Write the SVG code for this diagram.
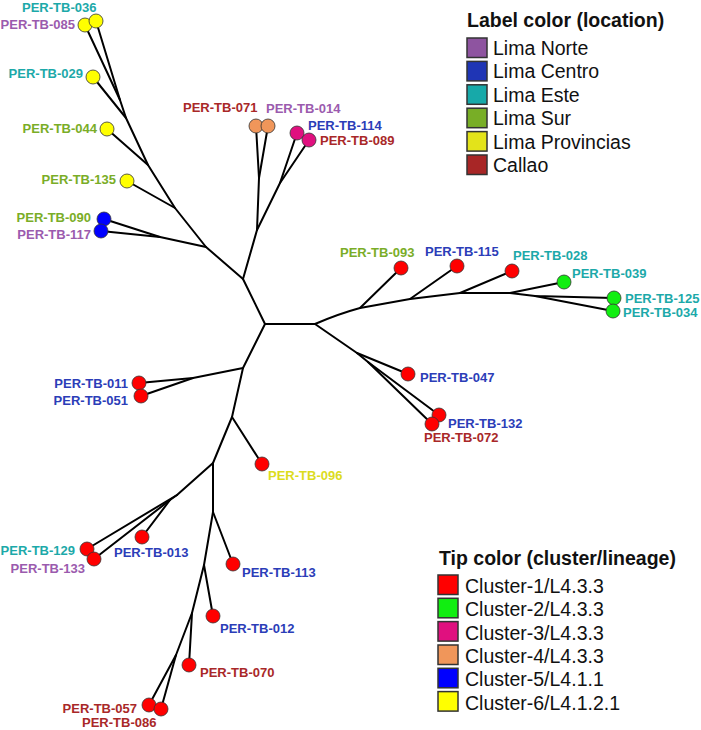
<svg xmlns="http://www.w3.org/2000/svg" width="701" height="730" viewBox="0 0 701 730">
<style>
.br{stroke:#000;stroke-width:2;fill:none;stroke-linecap:round;stroke-linejoin:round}
.tip{stroke:#333;stroke-width:0.8}
.lb{font-family:"Liberation Sans",Arial,sans-serif;font-weight:bold;font-size:13px}
.e{text-anchor:end}
.nor{fill:#9B5BAE}.cen{fill:#2B3DB8}.est{fill:#1CA9A9}.sur{fill:#7AAD27}.pro{fill:#DCDC1E}.cal{fill:#A92828}
.c1{fill:#FF0000}.c2{fill:#11EE11}.c3{fill:#E0107F}.c4{fill:#F0965A}.c5{fill:#0000FF}.c6{fill:#FFFF00}
.lt{font-family:"Liberation Sans",Arial,sans-serif;font-weight:bold;font-size:19.5px;fill:#111}
.li{font-family:"Liberation Sans",Arial,sans-serif;font-size:19.5px;fill:#111}
.sq{stroke:#333;stroke-width:1.5}
</style>
<rect width="701" height="730" fill="#fff"/>
<g id="connectors" class="br">
<path d="M265,324 L315,324"/>
<path d="M265,324 L243,279 L257,230 L259,178 L256,126"/>
<path d="M259,178 L268,126"/>
<path d="M257,230 L280,183 L297,133"/>
<path d="M280,183 L309,140"/>
<path d="M243,279 L206,247 L160,237 L104,219"/>
<path d="M160,237 L101,231"/>
<path d="M206,247 L175,208 L148,165 L126,118 L120,100 L85,25"/>
<path d="M120,100 L96,21"/>
<path d="M175,208 L127,181"/>
<path d="M148,165 L107,129"/>
<path d="M126,118 L93,77"/>
<path d="M315,324 Q338,314 360,308 L410,299 L460,293 L510,293 L535,296 L613,298"/>
<path d="M535,296 L613,311"/>
<path d="M510,293 L564,282"/>
<path d="M360,308 L401,268"/>
<path d="M410,299 L457,266"/>
<path d="M460,293 L512,271"/>
<path d="M315,324 L357,353 L408,374"/>
<path d="M357,353 L368,362 L439,415"/>
<path d="M368,362 L432,424"/>
<path d="M265,324 L243,368 L193,378 L139,383"/>
<path d="M193,378 L141,396"/>
<path d="M243,368 L232,417 L262,464"/>
<path d="M232,417 L213,463 L177,495 L87,549"/>
<path d="M177,495 L170,500 L94,559"/>
<path d="M170,500 L142,537"/>
<path d="M213,463 L213,512 L233,564"/>
<path d="M213,512 L204,565 L213,616"/>
<path d="M204,565 L192,613 L189,665"/>
<path d="M192,613 L176,655 L149,705"/>
<path d="M176,655 L161,709"/>
</g>
<g id="tip-085"><circle class="tip c6" cx="85" cy="25" r="7"/><text class="lb nor e" x="75" y="29">PER-TB-085</text></g>
<g id="tip-036"><circle class="tip c6" cx="96" cy="21" r="7"/><text class="lb est" x="22" y="11.5">PER-TB-036</text></g>
<g id="tip-029"><circle class="tip c6" cx="93" cy="77" r="7"/><text class="lb est e" x="83" y="78">PER-TB-029</text></g>
<g id="tip-044"><circle class="tip c6" cx="107" cy="129" r="7"/><text class="lb sur e" x="97" y="133">PER-TB-044</text></g>
<g id="tip-135"><circle class="tip c6" cx="127" cy="181" r="7"/><text class="lb sur e" x="116" y="184">PER-TB-135</text></g>
<g id="tip-090"><circle class="tip c5" cx="104" cy="219" r="7"/><text class="lb sur e" x="91" y="222">PER-TB-090</text></g>
<g id="tip-117"><circle class="tip c5" cx="101" cy="231" r="7"/><text class="lb nor e" x="91" y="239">PER-TB-117</text></g>
<g id="tip-071"><circle class="tip c4" cx="256" cy="126" r="7"/><text class="lb cal" x="183" y="112">PER-TB-071</text></g>
<g id="tip-014"><circle class="tip c4" cx="268" cy="126" r="7"/><text class="lb nor" x="266" y="113">PER-TB-014</text></g>
<g id="tip-114"><circle class="tip c3" cx="297" cy="133" r="7"/><text class="lb cen" x="308" y="130">PER-TB-114</text></g>
<g id="tip-089"><circle class="tip c3" cx="309" cy="140" r="7"/><text class="lb cal" x="320" y="145">PER-TB-089</text></g>
<g id="tip-093"><circle class="tip c1" cx="401" cy="268" r="7"/><text class="lb sur" x="340" y="257">PER-TB-093</text></g>
<g id="tip-115"><circle class="tip c1" cx="457" cy="266" r="7"/><text class="lb cen" x="425" y="256">PER-TB-115</text></g>
<g id="tip-028"><circle class="tip c1" cx="512" cy="271" r="7"/><text class="lb est" x="513" y="260">PER-TB-028</text></g>
<g id="tip-039"><circle class="tip c2" cx="564" cy="282" r="7"/><text class="lb est" x="572" y="278">PER-TB-039</text></g>
<g id="tip-125"><circle class="tip c2" cx="614" cy="298" r="7"/><text class="lb est" x="625" y="303">PER-TB-125</text></g>
<g id="tip-034"><circle class="tip c2" cx="613" cy="311" r="7"/><text class="lb est" x="623" y="317">PER-TB-034</text></g>
<g id="tip-047"><circle class="tip c1" cx="408" cy="374" r="7"/><text class="lb cen" x="420" y="382">PER-TB-047</text></g>
<g id="tip-132"><circle class="tip c1" cx="439" cy="415" r="7"/><text class="lb cen" x="448" y="428">PER-TB-132</text></g>
<g id="tip-072"><circle class="tip c1" cx="432" cy="424" r="7"/><text class="lb cal" x="424" y="442">PER-TB-072</text></g>
<g id="tip-011"><circle class="tip c1" cx="139" cy="383" r="7"/><text class="lb cen e" x="128" y="388">PER-TB-011</text></g>
<g id="tip-051"><circle class="tip c1" cx="141" cy="396" r="7"/><text class="lb cen e" x="128" y="405">PER-TB-051</text></g>
<g id="tip-096"><circle class="tip c1" cx="262" cy="464" r="7"/><text class="lb pro" x="268" y="480">PER-TB-096</text></g>
<g id="tip-129"><circle class="tip c1" cx="87" cy="549" r="7"/><text class="lb est e" x="75" y="555">PER-TB-129</text></g>
<g id="tip-133"><circle class="tip c1" cx="94" cy="559" r="7"/><text class="lb nor e" x="85" y="573">PER-TB-133</text></g>
<g id="tip-013"><circle class="tip c1" cx="142" cy="537" r="7"/><text class="lb cen" x="114" y="557">PER-TB-013</text></g>
<g id="tip-113"><circle class="tip c1" cx="233" cy="564" r="7"/><text class="lb cen" x="242" y="577">PER-TB-113</text></g>
<g id="tip-012"><circle class="tip c1" cx="213" cy="616" r="7"/><text class="lb cen" x="220" y="633">PER-TB-012</text></g>
<g id="tip-070"><circle class="tip c1" cx="189" cy="665" r="7"/><text class="lb cal" x="200" y="677">PER-TB-070</text></g>
<g id="tip-057"><circle class="tip c1" cx="149" cy="705" r="7"/><text class="lb cal e" x="137" y="713">PER-TB-057</text></g>
<g id="tip-086"><circle class="tip c1" cx="161" cy="709" r="7"/><text class="lb cal" x="82" y="727">PER-TB-086</text></g>
<g id="legend-location">
<text class="lt" x="467" y="27">Label color (location)</text>
<rect class="sq" x="467" y="38" width="20" height="19.5" fill="#8E54A0"/><text class="li" x="493" y="55">Lima Norte</text>
<rect class="sq" x="467" y="61.4" width="20" height="19.5" fill="#1F35B5"/><text class="li" x="493" y="78.4">Lima Centro</text>
<rect class="sq" x="467" y="84.8" width="20" height="19.5" fill="#17A9A9"/><text class="li" x="493" y="101.8">Lima Este</text>
<rect class="sq" x="467" y="108.2" width="20" height="19.5" fill="#78AE26"/><text class="li" x="493" y="125.2">Lima Sur</text>
<rect class="sq" x="467" y="131.6" width="20" height="19.5" fill="#E3E31A"/><text class="li" x="493" y="148.6">Lima Provincias</text>
<rect class="sq" x="467" y="155" width="20" height="19.5" fill="#A82626"/><text class="li" x="493" y="172">Callao</text>
</g>
<g id="legend-cluster">
<text class="lt" x="439" y="565">Tip color (cluster/lineage)</text>
<rect class="sq" x="438" y="575" width="20" height="19.5" fill="#FF0000"/><text class="li" x="465" y="593">Cluster-1/L4.3.3</text>
<rect class="sq" x="438" y="598.3" width="20" height="19.5" fill="#11EE11"/><text class="li" x="465" y="616.3">Cluster-2/L4.3.3</text>
<rect class="sq" x="438" y="621.6" width="20" height="19.5" fill="#E0107F"/><text class="li" x="465" y="639.6">Cluster-3/L4.3.3</text>
<rect class="sq" x="438" y="645" width="20" height="19.5" fill="#F0965A"/><text class="li" x="465" y="663">Cluster-4/L4.3.3</text>
<rect class="sq" x="438" y="668.3" width="20" height="19.5" fill="#0000FF"/><text class="li" x="465" y="686.3">Cluster-5/L4.1.1</text>
<rect class="sq" x="438" y="691.6" width="20" height="19.5" fill="#FFFF00"/><text class="li" x="465" y="709.6">Cluster-6/L4.1.2.1</text>
</g>
</svg>
